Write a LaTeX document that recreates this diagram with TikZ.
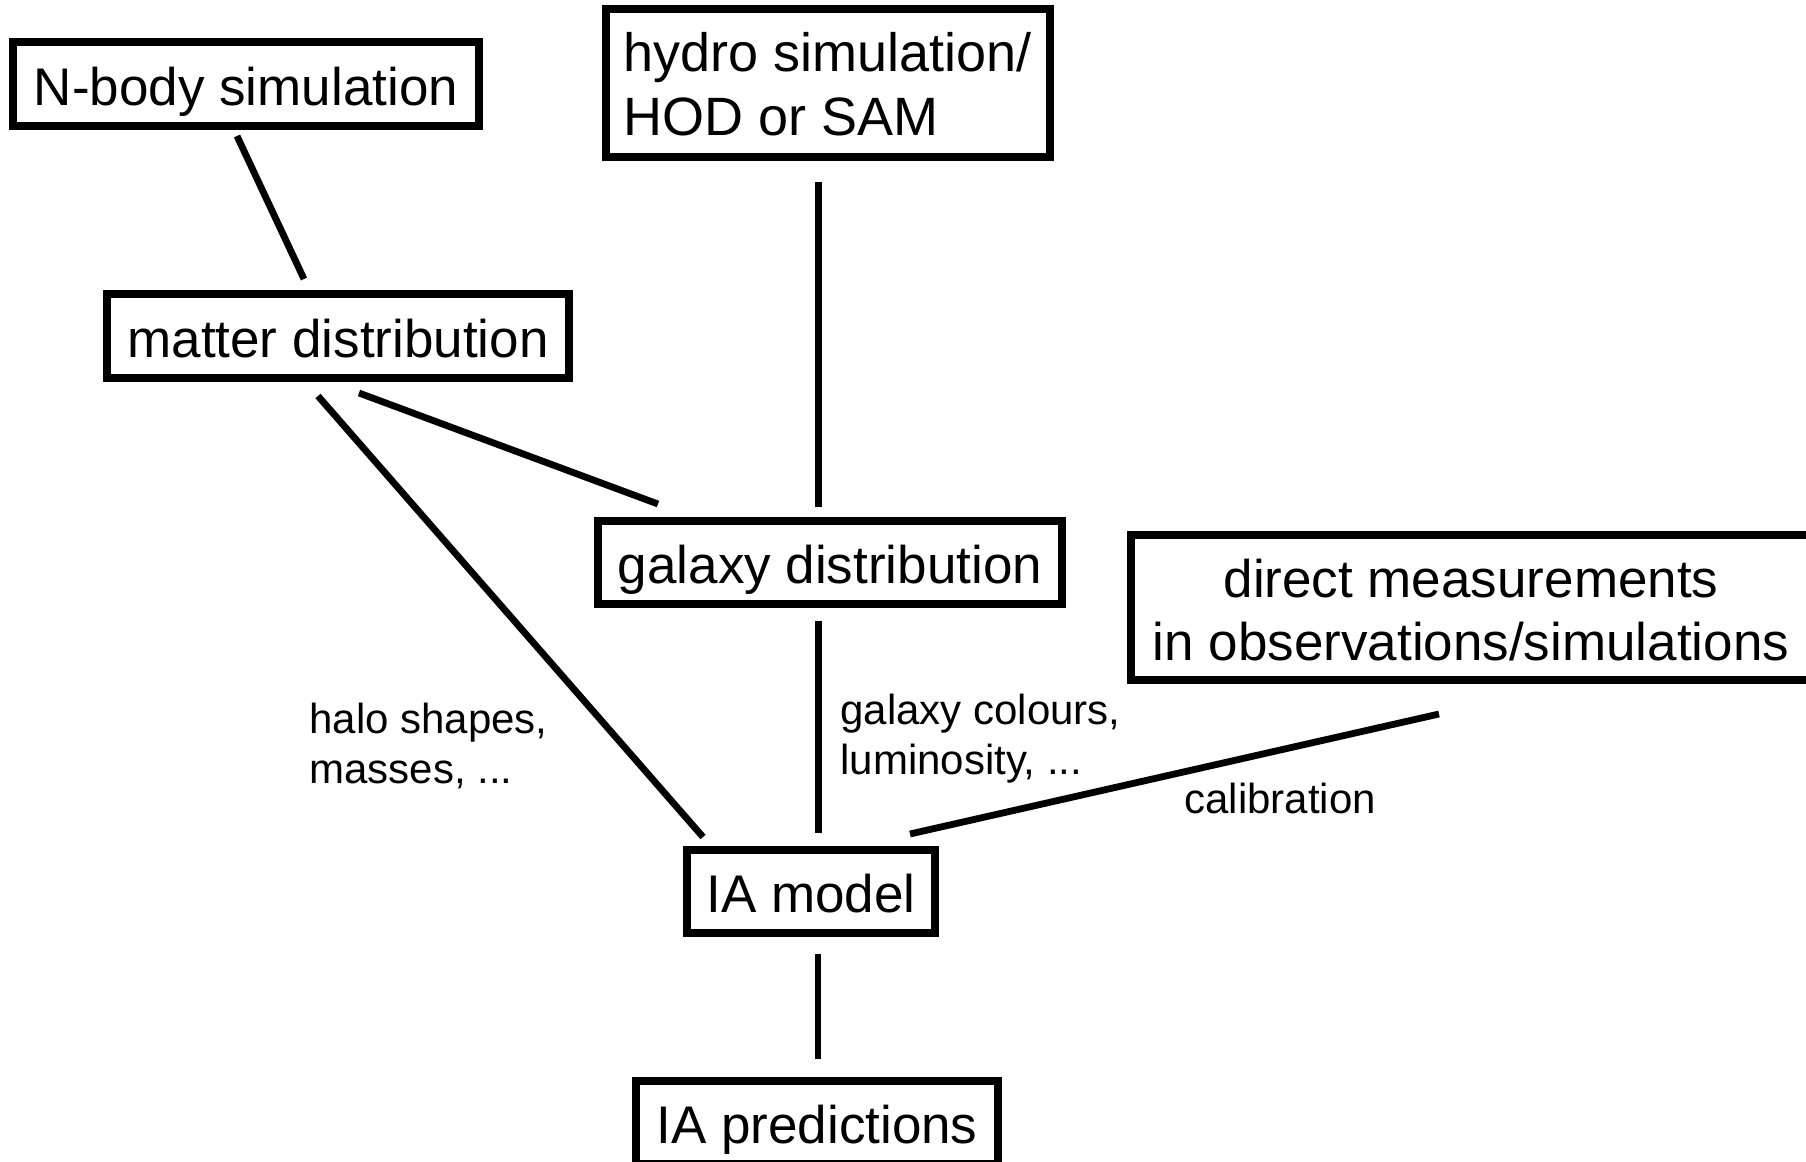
\documentclass[tikz,border=0pt]{standalone}
\usepackage{fontspec}
\setmainfont{Liberation Sans}
\tikzset{
  box/.style={draw, line width=3.6pt, inner sep=0pt,
    font=\fontsize{26.5pt}{31.75pt}\selectfont,
    text height=23.85pt, text depth=2.65pt},
  link/.style={line width=3.4pt},
  note/.style={inner sep=0pt, anchor=base west,
    font=\fontsize{21pt}{25pt}\selectfont},
}
\begin{document}
\begin{tikzpicture}[x=0.5pt, y=-0.5pt]
  \useasboundingbox (0,0) rectangle (1806,1162);
  \fill[white] (0,0) rectangle (1806,1162);
  \clip (0,0) rectangle (1806,1162);

  % boxes
  \node[box, minimum width=233pt, minimum height=42pt] (nbody) at (246,84) {N-body simulation};
  \node[box, minimum width=222pt, minimum height=74pt,
        font=\fontsize{27pt}{31.75pt}\selectfont, text height=54.65pt] (hydro) at (828,83)
        {\begin{tabular}[b]{@{}l@{}}hydro simulation/\\HOD or SAM\end{tabular}};
  \node[box, minimum width=231pt, minimum height=42pt] (matter) at (338,336) {matter distribution};
  \node[box, minimum width=232pt, minimum height=41.5pt] (galaxy) at (830,562.5) {galaxy distribution};
  \node[box, minimum width=340pt, minimum height=72.5pt, text height=55.85pt] (direct) at (1471,607.5)
        {\begin{tabular}[b]{@{}c@{}}direct measurements\\in observations/simulations\end{tabular}};
  \node[box, minimum width=124pt, minimum height=41.5pt] (model) at (811,891.5) {IA model};
  \node[box, minimum width=181pt, minimum height=41.5pt] (pred) at (817,1122.5) {IA predictions};

  % connector ends, kept clear of the box borders
  \coordinate (nbodyS)   at (237,136);
  \coordinate (matterN)  at (304,279);
  \coordinate (hydroS)   at (818.5,182);
  \coordinate (galaxyN)  at (818.5,507);
  \coordinate (matterSE) at (359,393);
  \coordinate (galaxyNW) at (658,504);
  \coordinate (matterS)  at (318,396);
  \coordinate (modelNW)  at (703,837);
  \coordinate (galaxyS)  at (818.5,621);
  \coordinate (modelN)   at (818.5,833);
  \coordinate (directS)  at (1439,714);
  \coordinate (modelNE)  at (910,834);
  \coordinate (modelS)   at (818,954);
  \coordinate (predN)    at (818,1059);

  % connectors
  \draw[link] (nbodyS) -- (matterN);
  \draw[link] (hydroS) -- (galaxyN);
  \draw[link] (matterSE) -- (galaxyNW);
  \draw[link] (matterS) -- (modelNW);
  \draw[link] (galaxyS) -- (modelN);
  \draw[link] (directS) -- (modelNE);
  \draw[link] (modelS) -- (predN);

  % connector labels
  \node[note] (halo) at (309,733) {\begin{tabular}[t]{@{}l@{}}halo shapes,\\masses, ...\end{tabular}};
  \node[note] (colours) at (840,724) {\begin{tabular}[t]{@{}l@{}}galaxy colours,\\luminosity, ...\end{tabular}};
  \node[note] (calib) at (1184,813) {calibration};
\end{tikzpicture}
\end{document}
